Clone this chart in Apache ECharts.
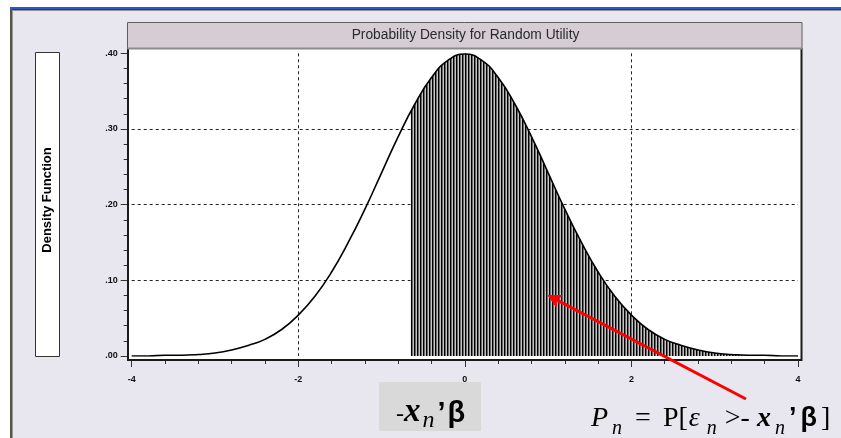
<!DOCTYPE html>
<html>
<head>
<meta charset="utf-8">
<script src="https://cdn.jsdelivr.net/npm/echarts@6/dist/echarts.min.js"></script>
<style>
  html, body { margin: 0; padding: 0; background: #ffffff; }
  #chart { width: 841px; height: 438px; }
</style>
</head>
<body>
<div id="chart"></div>
<script>
// Standard normal density, read at steps of 0.2 over [-4, 4]
const xs = [-4.0, -3.8, -3.6, -3.4, -3.2, -3.0, -2.8, -2.6, -2.4, -2.2, -2.0,
            -1.8, -1.6, -1.4, -1.2, -1.0, -0.8, -0.6, -0.4, -0.2, 0.0,
             0.2,  0.4,  0.6,  0.8,  1.0,  1.2,  1.4,  1.6,  1.8, 2.0,
             2.2,  2.4,  2.6,  2.8,  3.0,  3.2,  3.4,  3.6,  3.8, 4.0];
const density = [0.000, 0.000, 0.001, 0.001, 0.002, 0.004, 0.008, 0.014, 0.022, 0.035, 0.054,
                 0.079, 0.111, 0.150, 0.194, 0.242, 0.290, 0.333, 0.368, 0.391, 0.399,
                 0.391, 0.368, 0.333, 0.290, 0.242, 0.194, 0.150, 0.111, 0.079, 0.054,
                 0.035, 0.022, 0.014, 0.008, 0.004, 0.002, 0.001, 0.001, 0.000, 0.000];

// Shaded region: density to the right of the threshold -x'β
const shadeXs = [-0.65, -0.6, -0.4, -0.2, 0.0, 0.2, 0.4, 0.6, 0.8, 1.0, 1.2, 1.4, 1.6, 1.8, 2.0,
                 2.2, 2.4, 2.6, 2.8, 3.0, 3.2, 3.4, 3.6, 3.8, 4.0];
const shadeDensity = [0.323, 0.333, 0.368, 0.391, 0.399, 0.391, 0.368, 0.333, 0.290, 0.242, 0.194,
                      0.150, 0.111, 0.079, 0.054, 0.035, 0.022, 0.014, 0.008, 0.004, 0.002,
                      0.001, 0.001, 0.000, 0.000];

const xTicks = [-4, -2, 0, 2, 4];
const yTicks = [0.0, 0.1, 0.2, 0.3, 0.4];
const titleText = 'Probability Density for Random Utility';
const yAxisTitle = 'Density Function';
const arrowTipValue = [1.0, 0.08];

// vertical hatch used for the shaded probability area
function hatchPattern() {
  const cols = ['#000000', '#6a6a6a', '#c4c4c4'];
  const c = document.createElement('canvas');
  c.width = cols.length; c.height = 4;
  const g = c.getContext('2d');
  cols.forEach((col, i) => {
    g.fillStyle = col;
    g.fillRect(i, 0, 1, 4);
  });
  return c;
}

const curve = xs.map((x, i) => [x, density[i]]);
const shade = shadeXs.map((x, i) => [x, shadeDensity[i]]);

const chart = echarts.init(document.getElementById('chart'), null, { renderer: 'canvas' });

const tickFont = { fontFamily: 'Liberation Sans, Arial, sans-serif', fontSize: 9, fontWeight: 'bold', color: '#111' };
const gridLine = { show: true, showMinLine: false, showMaxLine: false,
                   lineStyle: { color: '#222', type: [3, 3], width: 1 } };

const option = {
  animation: false,
  backgroundColor: '#e8e6ee',
  grid: { left: 131.7, right: 43, top: 53.3, bottom: 82, containLabel: false },
  xAxis: [{
    type: 'value', min: xTicks[0], max: xTicks[xTicks.length - 1], interval: 2,
    offset: 4,
    axisLine: { show: false, onZero: false },
    axisTick: { show: true, length: 7, lineStyle: { color: '#333', width: 1 } },
    minorTick: { show: true, splitNumber: 5, length: 4, lineStyle: { color: '#333', width: 1 } },
    axisLabel: { margin: 15, ...tickFont },
    splitLine: gridLine
  }],
  yAxis: [{
    type: 'value', min: yTicks[0], max: yTicks[yTicks.length - 1], interval: 0.1,
    offset: 4,
    axisLine: { show: false, onZero: false },
    axisTick: { show: true, length: 7, lineStyle: { color: '#333', width: 1 } },
    minorTick: { show: true, splitNumber: 5, length: 4, lineStyle: { color: '#333', width: 1 } },
    axisLabel: { margin: 10, ...tickFont, formatter: v => v.toFixed(2).replace(/^0/, '') },
    splitLine: gridLine
  }],
  series: [{
    type: 'line', data: shade, symbol: 'none', smooth: true,
    lineStyle: { width: 0 },
    areaStyle: { color: { image: hatchPattern(), repeat: 'repeat' }, opacity: 1, origin: 'start' },
    z: 2
  }, {
    type: 'line', data: curve, symbol: 'none', smooth: true,
    lineStyle: { color: '#000', width: 1.6 },
    z: 3
  }]
};
chart.setOption(option);

// frame, title bar, axis title box and annotations
const tip = chart.convertToPixel({ gridIndex: 0 }, arrowTipValue);
const tail = [746, 399];
const ang = Math.atan2(tail[1] - tip[1], tail[0] - tip[0]);
const headLen = 14, headSpread = 0.47;
const p1 = [tip[0] + headLen * Math.cos(ang - headSpread), tip[1] + headLen * Math.sin(ang - headSpread)];
const p2 = [tip[0] + headLen * Math.cos(ang + headSpread), tip[1] + headLen * Math.sin(ang + headSpread)];
const neck = [tip[0] + 9 * Math.cos(ang), tip[1] + 9 * Math.sin(ang)];

const serif = 'Liberation Serif, DejaVu Serif, serif';
const sans = 'Liberation Sans, Arial, sans-serif';
const pad = (left, bottom) => [0, 0, bottom, left];

function tok(font) {
  return (left, bottom) => ({ font, fill: '#000', verticalAlign: 'bottom', padding: pad(left, bottom) });
}
const fMain = tok('28px ' + serif);
const fItal = tok('italic 28px ' + serif);
const fBoldX = tok('italic bold 28px ' + serif);
const fSub = tok('italic 20px ' + serif);
const fSans = tok('bold 27px ' + sans);

const gHyph = tok('24px ' + serif);
const gBoldX = tok('italic bold 33px ' + serif);
const gSub = tok('italic 24px ' + serif);
const gSans = tok('bold 29px ' + sans);

chart.setOption({
  graphic: [
    // window edges
    { type: 'rect', z: -20, silent: true, shape: { x: 0, y: 0, width: 841, height: 7 }, style: { fill: '#ffffff' } },
    { type: 'rect', z: -20, silent: true, shape: { x: 0, y: 0, width: 10, height: 438 }, style: { fill: '#ffffff' } },
    { type: 'rect', z: -19, silent: true, shape: { x: 10, y: 7, width: 831, height: 2 }, style: { fill: '#2a58c8' } },
    { type: 'rect', z: -19, silent: true, shape: { x: 10, y: 9, width: 831, height: 1.5 }, style: { fill: '#3c3c3c' } },
    { type: 'rect', z: -19, silent: true, shape: { x: 10, y: 9, width: 2, height: 429 }, style: { fill: '#55554c' } },
    { type: 'rect', z: -19, silent: true, shape: { x: 12, y: 10, width: 1, height: 428 }, style: { fill: '#9a9a94' } },
    // plotting area and its frame
    { type: 'rect', z: -10, silent: true, shape: { x: 128, y: 49, width: 674, height: 311 }, style: { fill: '#ffffff' } },
    { type: 'polyline', z: 40, silent: true, shape: { points: [[128, 48], [128, 360], [801.5, 360], [801.5, 48]] },
      style: { stroke: '#1a1a1a', lineWidth: 2, fill: null } },
    // title bar
    { type: 'rect', z: 50, silent: true, shape: { x: 127.5, y: 22.5, width: 674.5, height: 26 },
      style: { fill: '#d6ccd4', stroke: '#5e5e5e', lineWidth: 1 } },
    { type: 'rect', z: 51, silent: true, shape: { x: 127.5, y: 47.5, width: 674.5, height: 2 }, style: { fill: '#8a8a8a' } },
    { type: 'text', z: 52, silent: true, x: 465.5, y: 35.5,
      style: { text: titleText, font: '13.8px ' + sans, fill: '#2a2a2a', align: 'center', verticalAlign: 'middle' } },
    // axis title box
    { type: 'rect', z: 50, silent: true, shape: { x: 35.5, y: 52.5, width: 24, height: 304 },
      style: { fill: '#ffffff', stroke: '#333', lineWidth: 1 } },
    { type: 'text', z: 52, silent: true, x: 47.5, y: 200, rotation: Math.PI / 2,
      style: { text: yAxisTitle, font: 'bold 13px ' + sans, fill: '#000', align: 'center', verticalAlign: 'middle' } },
    // threshold label
    { type: 'rect', z: 50, silent: true, shape: { x: 379, y: 382, width: 102, height: 49 }, style: { fill: '#d9d9d9' } },
    { type: 'text', z: 52, silent: true, x: 396, y: 433, style: {
        text: '{m|-}{x|x}{s|n}{q|’}{b|β}',
        align: 'left', verticalAlign: 'bottom',
        rich: { m: gHyph(0, 6), x: gBoldX(0, 4.5), s: gSub(2, 0), q: gSans(3, 5), b: gSans(2, 5) }
    } },
    // probability formula
    { type: 'text', z: 52, silent: true, x: 591, y: 438.5, style: {
        text: '{P|P}{s1|n}{eq|=}{P2|P[}{e|ε}{s2|n}{gt|>-}{x|x}{s3|n}{q|’}{b|β}{br|]}',
        align: 'left', verticalAlign: 'bottom',
        rich: {
          P: fItal(0, 6), s1: fSub(4, 0), eq: fMain(13, 6), P2: fMain(12, 6),
          e: fItal(1, 6), s2: fSub(7, 0), gt: fMain(8, 6), x: fBoldX(7, 6),
          s3: fSub(4, 0), q: fSans(4, 6), b: fSans(4, 6), br: fMain(4, 6)
        }
    } },
    // arrow pointing into the shaded area
    { type: 'line', z: 60, silent: true, shape: { x1: tail[0], y1: tail[1], x2: neck[0], y2: neck[1] },
      style: { stroke: '#ff0000', lineWidth: 3 } },
    { type: 'polygon', z: 60, silent: true, shape: { points: [tip, p1, neck, p2] },
      style: { fill: '#ff0000', stroke: '#ff0000', lineWidth: 1 } }
  ]
});
</script>
</body>
</html>
